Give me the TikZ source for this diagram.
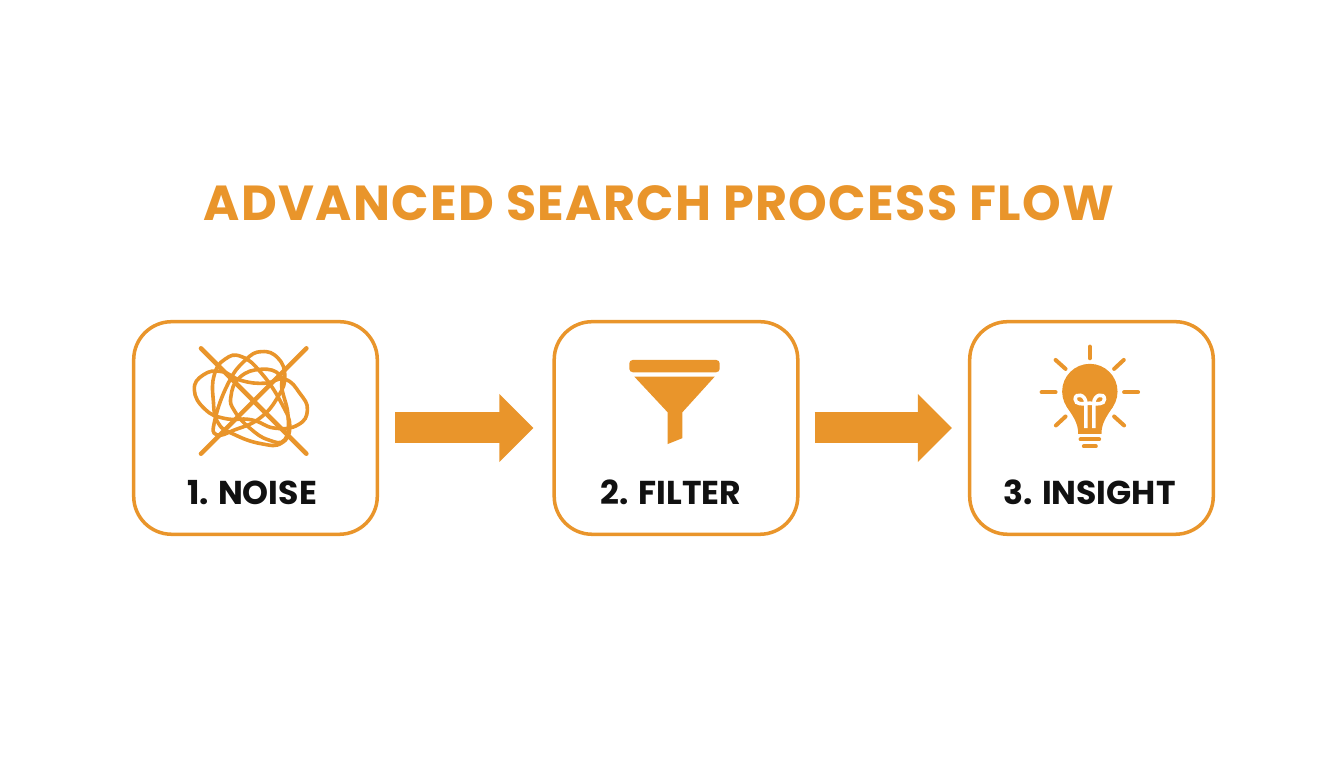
\documentclass[tikz,border=0pt]{standalone}
\usepackage{fontspec}
\setmainfont{Poppins}
\usepackage{xcolor}
\usetikzlibrary{arrows.meta, positioning, calc}
\definecolor{flow-orange}{HTML}{E9952B}
\definecolor{flow-black}{HTML}{111111}
\tikzset{
    stepbox/.style={draw=flow-orange, line width=1pt, rounded corners=0.38cm, minimum width=2.436cm, minimum height=2.126cm},
    steplabel/.style={text=flow-black, font=\bfseries\fontsize{9.4}{12}\selectfont, inner sep=0pt},
    flowarrow/.style={flow-orange, line width=0.31cm, -{Triangle[length=0.34cm, width=0.66cm]}},
    tangle/.style={flow-orange, line width=0.036cm},
    ray/.style={flow-orange, line width=0.04cm, line cap=round},
}

\begin{document}
\begin{tikzpicture}
    \useasboundingbox (0,0) rectangle (13.44,7.68);

    % Title
    \node[text=flow-orange, font=\bfseries\fontsize{14}{16}\selectfont\addfontfeature{LetterSpace=2.8}, inner sep=0pt] (title) at (6.59,5.65) {ADVANCED SEARCH PROCESS FLOW};

    % Boxes
    \node[stepbox] (noise) at (2.555,3.40) {};
    \node[stepbox] (filter) at (6.76,3.40) {};
    \node[stepbox] (insight) at (10.915,3.40) {};

    % Labels
    \node[steplabel] (noiselabel) at (2.52,2.755) {1. NOISE};
    \node[steplabel] (filterlabel) at (6.71,2.755) {2. FILTER};
    \node[steplabel] (insightlabel) at (10.895,2.755) {3. INSIGHT};

    % Arrows
    \draw[flowarrow, shorten <=0.16cm, shorten >=0.19cm] (noise) -- (filter);
    \draw[flowarrow, shorten <=0.15cm, shorten >=0.16cm] (filter) -- (insight);

    % Noise icon
    \begin{scope}[shift={(1.85,4.28)}, x=0.003333cm, y=-0.003333cm]
        \draw[tangle] plot[smooth cycle, tension=0.8] coordinates {(28,150) (55,105) (110,95) (170,122) (240,130) (300,118) (345,160) (368,210) (340,255) (270,265) (200,240) (120,236) (60,208)};
        \draw[tangle] plot[smooth cycle, tension=0.8] coordinates {(88,105) (120,58) (170,50) (230,100) (290,190) (315,260) (290,310) (230,312) (150,285) (100,250) (85,180)};
        \draw[tangle] plot[smooth cycle, tension=0.8] coordinates {(180,62) (230,35) (280,55) (300,110) (280,170) (225,235) (150,270) (95,285) (90,240) (130,130)};
        \draw[tangle] plot[smooth cycle, tension=0.8] coordinates {(138,170) (165,112) (230,88) (285,105) (292,150) (310,230) (300,300) (250,300) (195,265) (150,215)};
        \draw[flow-orange, line width=0.045cm, line cap=round] (48,25) -- (365,342);
        \draw[flow-orange, line width=0.045cm, line cap=round] (365,25) -- (48,342);
    \end{scope}

    % Filter icon
    \begin{scope}[shift={(6,4.28)}, x=0.003333cm, y=-0.003333cm]
        \fill[flow-orange, rounded corners=1pt] (88,60) rectangle (360,97);
        \fill[flow-orange] (103,110) -- (345,110) -- (248,217) -- (248,295) -- (203,313) -- (203,217) -- cycle;
    \end{scope}

    % Insight icon
    \begin{scope}[shift={(10.2,4.33)}, x=0.003333cm, y=-0.003333cm]
        \fill[flow-orange] (210,170) circle[radius=0.277cm];
        \fill[flow-orange] (140,215) .. controls (160,245) and (175,265) .. (175,297) -- (245,297) .. controls (245,265) and (260,245) .. (280,215) -- cycle;
        \draw[white, line width=0.036cm] (198,280) -- (198,205) .. controls (198,178) and (166,173) .. (166,193) .. controls (166,210) and (190,208) .. (210,205) .. controls (230,208) and (254,210) .. (254,193) .. controls (254,173) and (222,178) .. (222,205) -- (222,280);
        \draw[flow-orange, line width=0.04cm, line cap=round] (182,314) -- (238,314);
        \draw[flow-orange, line width=0.04cm, line cap=round] (192,335) -- (228,335);
        \foreach \xa/\ya/\xb/\yb in {210/35/210/70, 107/75/137/102, 312/75/283/102, 65/172/107/172, 355/172/313/172, 137/245/108/272, 283/245/313/272} {
            \draw[ray] (\xa,\ya) -- (\xb,\yb);
        }
    \end{scope}
\end{tikzpicture}
\end{document}
